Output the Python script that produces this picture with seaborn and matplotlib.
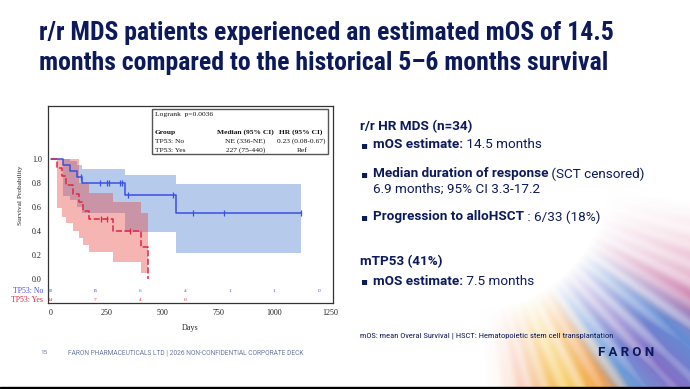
import numpy as np
import pandas as pd
import matplotlib
matplotlib.use('Agg')
import matplotlib.pyplot as plt
import seaborn as sns
from matplotlib.patches import Rectangle

sns.set_style('white')
plt.rcParams['font.family'] = ['Roboto', 'DejaVu Sans']

# ---- data ----
# TP53: No (blue, solid)
no_days = [0, 54, 86, 116, 142, 333, 561, 1120]
no_surv = [1.0, 0.95, 0.90, 0.85, 0.80, 0.70, 0.556, 0.556]
no_upper = [1.0, 1.0, 0.985, 0.955, 0.917, 0.87, 0.795, 0.795]
no_lower = [1.0, 0.69, 0.66, 0.60, 0.55, 0.39, 0.217, 0.217]
no_censor = [135, 219, 250, 259, 311, 320, 348, 549, 635, 776, 1120]

# TP53: Yes (red, dashed)
yes_days = [0, 30, 50, 68, 100, 125, 145, 170, 280, 403, 436]
yes_surv = [1.0, 0.929, 0.857, 0.786, 0.714, 0.643, 0.571, 0.5, 0.4, 0.267, 0.0]
yes_upper = [1.0, 1.0, 1.0, 1.0, 1.0, 0.80, 0.80, 0.717, 0.64, 0.55, 0.55]
yes_lower = [1.0, 0.59, 0.52, 0.47, 0.40, 0.34, 0.286, 0.225, 0.147, 0.05, 0.05]
yes_censor = [223, 253, 353]

# number at risk
risk_days = [0, 200, 400, 600, 800, 1000, 1200]
risk_no = [20, 15, 6, 4, 1, 1, 0]
risk_yes = [14, 7, 4, 0]

x_ticks = [0, 250, 500, 750, 1000, 1250]
y_ticks = [0.0, 0.2, 0.4, 0.6, 0.8, 1.0]

W, H = 690, 389
NAVY = '#0c1a5b'
BLUE_LINE = '#3a4fe3'
RED_LINE = '#dc2846'


def fx(x):
    return x / W


def fy(y):
    return 1 - y / H


def step_value(days, surv, t):
    i = np.searchsorted(days, t, side='right') - 1
    return surv[i]


fig = plt.figure(figsize=(6.9, 3.89), dpi=100)

# ---- background streaks (bottom right of the slide) ----
bg = fig.add_axes([0, 0, 1, 1], zorder=-10)
yy, xx = np.mgrid[0:H, 0:W].astype(float)
dx, dy = xx - 470, yy - 170
theta = np.degrees(np.arctan2(dy, dx))
r = np.hypot(dx, dy)
m = np.clip((r - 140) / 130, 0, 1) ** 0.9
m *= np.clip((theta - 8) / 28, 0, 1) * np.clip((86 - theta) / 12, 0, 1)
m *= 1 + 0.18 * np.sin(np.radians(theta) * 90) + 0.12 * np.sin(np.radians(theta) * 37 + 1)
m = np.clip(m, 0, 0.95)
stops = [15, 30, 38, 46, 53, 58, 66, 76, 88]
cols = np.array([[230, 150, 175], [200, 120, 170], [90, 135, 210], [125, 105, 195],
                 [100, 150, 215], [240, 160, 80], [245, 200, 80], [245, 180, 150],
                 [250, 235, 220]]) / 255
rgb = np.stack([np.interp(theta, stops, cols[:, k]) for k in range(3)], axis=-1)
img = 1 - m[..., None] * (1 - rgb)
bg.imshow(img, extent=[0, W, H, 0], aspect='auto', interpolation='bilinear')
bg.set_xlim(0, W)
bg.set_ylim(H, 0)
bg.axis('off')
bg.add_patch(Rectangle((0, H - 2.5), W, 2.5, color='black'))

# ---- Kaplan-Meier axes ----
ax = fig.add_axes([fx(48), fy(303), fx(333) - fx(48), fy(106) - fy(303)])
ax.set_facecolor('white')

ax.fill_between(no_days, no_lower, no_upper, step='post', color='#2f67c8', alpha=0.35, lw=0)
ax.fill_between(yes_days, yes_lower, yes_upper, step='post', color='#e8473f', alpha=0.4, lw=0)

sns.lineplot(x=no_days, y=no_surv, ax=ax, color=BLUE_LINE, lw=1.1,
             drawstyle='steps-post', estimator=None, sort=False)
sns.lineplot(x=yes_days, y=yes_surv, ax=ax, color=RED_LINE, lw=1.1,
             drawstyle='steps-post', estimator=None, sort=False, linestyle=(0, (4, 1.6)))

no_cy = [step_value(no_days, no_surv, t) for t in no_censor]
yes_cy = [step_value(yes_days, yes_surv, t) for t in yes_censor]
sns.scatterplot(x=no_censor, y=no_cy, ax=ax, marker='|', s=16, color=BLUE_LINE, linewidth=0.9)
sns.scatterplot(x=yes_censor, y=yes_cy, ax=ax, marker='|', s=16, color=RED_LINE, linewidth=0.9)

# number at risk rows inside the frame
for d, n in zip(risk_days, risk_no):
    ax.text(d, -0.097, str(n), color='#4a4af0', fontsize=3.8, ha='center', va='center',
            family='Liberation Serif')
for d, n in zip(risk_days, risk_yes):
    ax.text(d, -0.172, str(n), color='#e0203a', fontsize=3.8, ha='center', va='center',
            family='Liberation Serif')
fig.text(fx(43), fy(291), 'TP53: No', color='#4a4af0', fontsize=5.6, ha='right', va='center',
         family='Liberation Serif')
fig.text(fx(43), fy(300), 'TP53: Yes', color='#e0203a', fontsize=5.6, ha='right', va='center',
         family='Liberation Serif')

ax.set_xlim(-12, 1263)
ax.set_ylim(-0.1975, 1.444)
ax.set_xticks(x_ticks)
ax.set_yticks(y_ticks)
ax.set_xticklabels([str(t) for t in x_ticks], family='Liberation Serif', fontsize=5.8)
ax.set_yticklabels([f'{t:.1f}' for t in y_ticks], family='Liberation Serif', fontsize=5.8)
ax.tick_params(length=2.5, width=0.6, pad=2, colors='#222222')
ax.set_xlabel('')
ax.set_ylabel('')
for s in ax.spines.values():
    s.set_color('#333333')
    s.set_linewidth(0.9)
fig.text(fx(190), fy(328), 'Days', fontsize=5.8, ha='center', va='center', family='Liberation Serif')
fig.text(fx(20.5), fy(195), 'Survival Probability', fontsize=5.2, rotation=90, ha='center',
         va='center', family='Liberation Serif')

# stats box
fig.patches.append(Rectangle((fx(152), fy(154)), fx(328) - fx(152), fy(109) - fy(154),
                             transform=fig.transFigure, fill=False, ec='#555555', lw=1.0))
serif = dict(family='Liberation Serif', fontsize=5.4, va='center', color='#111111')
fig.text(fx(155), fy(115), 'Logrank  p=0.0036', ha='left', **serif)
fig.text(fx(155), fy(132.5), 'Group', ha='left', weight='bold', **serif)
fig.text(fx(245), fy(132.5), 'Median (95% CI)', ha='center', weight='bold', **serif)
fig.text(fx(301), fy(132.5), 'HR (95% CI)', ha='center', weight='bold', **serif)
fig.text(fx(155), fy(141.5), 'TP53: No', ha='left', **serif)
fig.text(fx(245), fy(141.5), 'NE (336-NE)', ha='center', **serif)
fig.text(fx(301.5), fy(141.5), '0.23 (0.08-0.67)', ha='center', **serif)
fig.text(fx(155), fy(150), 'TP53: Yes', ha='left', **serif)
fig.text(fx(246), fy(150), '227 (75-440)', ha='center', **serif)
fig.text(fx(302), fy(150), 'Ref', ha='center', **serif)

# ---- slide text ----
title_fam = ['Roboto Condensed', 'Liberation Sans Narrow', 'Roboto']
fig.text(fx(39), fy(33), 'r/r MDS patients experienced an estimated mOS of 14.5',
         fontsize=18.5, weight='bold', color=NAVY, ha='left', va='center', family=title_fam)
fig.text(fx(39), fy(63), 'months compared to the historical 5\u20136 months survival',
         fontsize=18.5, weight='bold', color=NAVY, ha='left', va='center', family=title_fam)

renderer = fig.canvas.get_renderer()
FS = 9.7


def mixed(x, y, bold, normal, size=FS):
    t = fig.text(fx(x), fy(y), bold, fontsize=size, weight='bold', color=NAVY, ha='left', va='center')
    if normal:
        bb = t.get_window_extent(renderer)
        fig.text(bb.x1 / W, fy(y), normal, fontsize=size, color=NAVY, ha='left', va='center')


def bullet(y):
    fig.text(fx(360), fy(y), '\u25aa', fontsize=7.5, color=NAVY, ha='left', va='center',
             family=['DejaVu Sans'])


fig.text(fx(360), fy(127), 'r/r HR MDS (n=34)', fontsize=FS, weight='bold', color=NAVY, va='center')
bullet(145)
mixed(373, 145, 'mOS estimate:', ' 14.5 months')
bullet(174)
mixed(373, 174, 'Median duration of response', ' (SCT censored)')
fig.text(fx(373), fy(189.5), '6.9 months; 95% CI 3.3-17.2', fontsize=FS, color=NAVY, va='center')
bullet(217)
mixed(373, 217, 'Progression to alloHSCT', ' : 6/33 (18%)')
fig.text(fx(360), fy(262), 'mTP53 (41%)', fontsize=FS, weight='bold', color=NAVY, va='center')
bullet(281.5)
mixed(373, 281.5, 'mOS estimate:', ' 7.5 months')

fig.text(fx(360), fy(336), 'mOS: mean Overal Survival | HSCT: Hematopoietic stem cell transplantation',
         fontsize=6.1, color=NAVY, va='center', family=title_fam)

fig.text(fx(40), fy(352.5), '15', fontsize=4.6, color='#6a7aa0', va='center')
fig.text(fx(68), fy(352.5), 'FARON PHARMACEUTICALS LTD | 2026 NON-CONFIDENTIAL CORPORATE DECK',
         fontsize=4.8, color='#6a7aa0', va='center')
fig.text(fx(598), fy(353), 'F A R O N', fontsize=9.5, weight='bold', color=NAVY, va='center')

fig.savefig('out.png', dpi=100)
